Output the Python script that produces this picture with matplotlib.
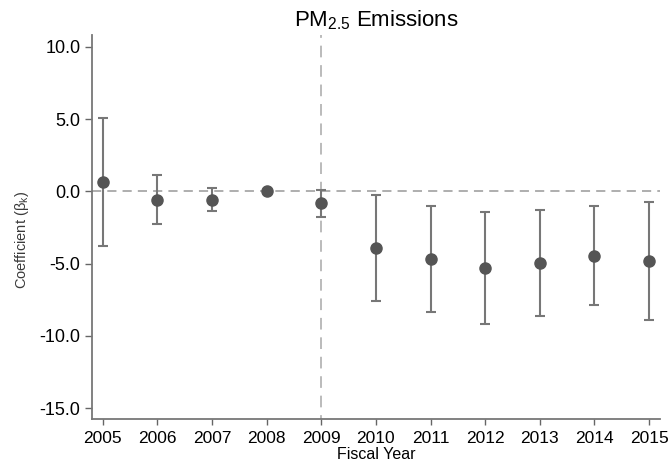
import matplotlib
matplotlib.use("Agg")
import matplotlib.pyplot as plt

plt.rcParams["font.family"] = ["Liberation Sans", "DejaVu Sans"]
plt.rcParams["mathtext.fontset"] = "custom"
plt.rcParams["mathtext.rm"] = "Liberation Sans"
plt.rcParams["mathtext.it"] = "Liberation Sans:italic"

# event-study coefficients, 2008 is the omitted base year
years = [2005, 2006, 2007, 2008, 2009, 2010, 2011, 2012, 2013, 2014, 2015]
coef = [0.64, -0.62, -0.58, 0.0, -0.80, -3.90, -4.68, -5.28, -4.95, -4.45, -4.81]
ci_hi = [5.04, 1.10, 0.20, 0.0, 0.10, -0.23, -1.04, -1.40, -1.27, -1.04, -0.74]
ci_lo = [-3.80, -2.28, -1.33, 0.0, -1.75, -7.58, -8.34, -9.15, -8.62, -7.83, -8.89]
yticks = [10.0, 5.0, 0.0, -5.0, -10.0, -15.0]
policy_year = 2009

fig = plt.figure(figsize=(6.7, 4.67), dpi=100)
ax = fig.add_axes([92.3 / 670, 47.7 / 467, 567.7 / 670, 384.3 / 467])

ax.axhline(0, color="#999999", lw=1.1, ls=(0, (6, 4)), zorder=1)
ax.axvline(policy_year, color="#bbbbbb", lw=1.4, ls=(4, (6, 4)), zorder=1)

err_lo = [c - l for c, l in zip(coef, ci_lo)]
err_hi = [h - c for c, h in zip(coef, ci_hi)]
ax.errorbar(years, coef, yerr=[err_lo, err_hi], fmt="o", color="#555555",
            markersize=8, ecolor="#777777", elinewidth=1.5, capsize=3.5,
            capthick=1.5, zorder=3)

ax.set_xlim(2004.81, 2015.2)
ax.set_ylim(-15.76, 10.81)
ax.set_xticks(years)
ax.set_yticks(yticks)
ax.set_yticklabels([f"{v:.1f}" for v in yticks])
ax.tick_params(axis="y", labelsize=13, length=5, color="#666666", width=1, pad=3.5)
ax.tick_params(axis="x", labelsize=12.5, length=4, color="#666666", width=1, pad=4.5)

for side in ("top", "right"):
    ax.spines[side].set_visible(False)
for side in ("left", "bottom"):
    ax.spines[side].set_color("#777777")
    ax.spines[side].set_linewidth(1.3)

ax.set_xlabel("Fiscal Year", fontsize=11.5, labelpad=1)
ax.set_ylabel(r"Coefficient (β${}_{\mathrm{k}}$)", fontsize=10.5, color="#3a3a3a")
ax.yaxis.set_label_coords(-0.108, 0.467)
ax.set_title(r"PM$_{\mathrm{2.5}}$ Emissions", fontsize=16, pad=6)

fig.savefig("out.png", dpi=100)
